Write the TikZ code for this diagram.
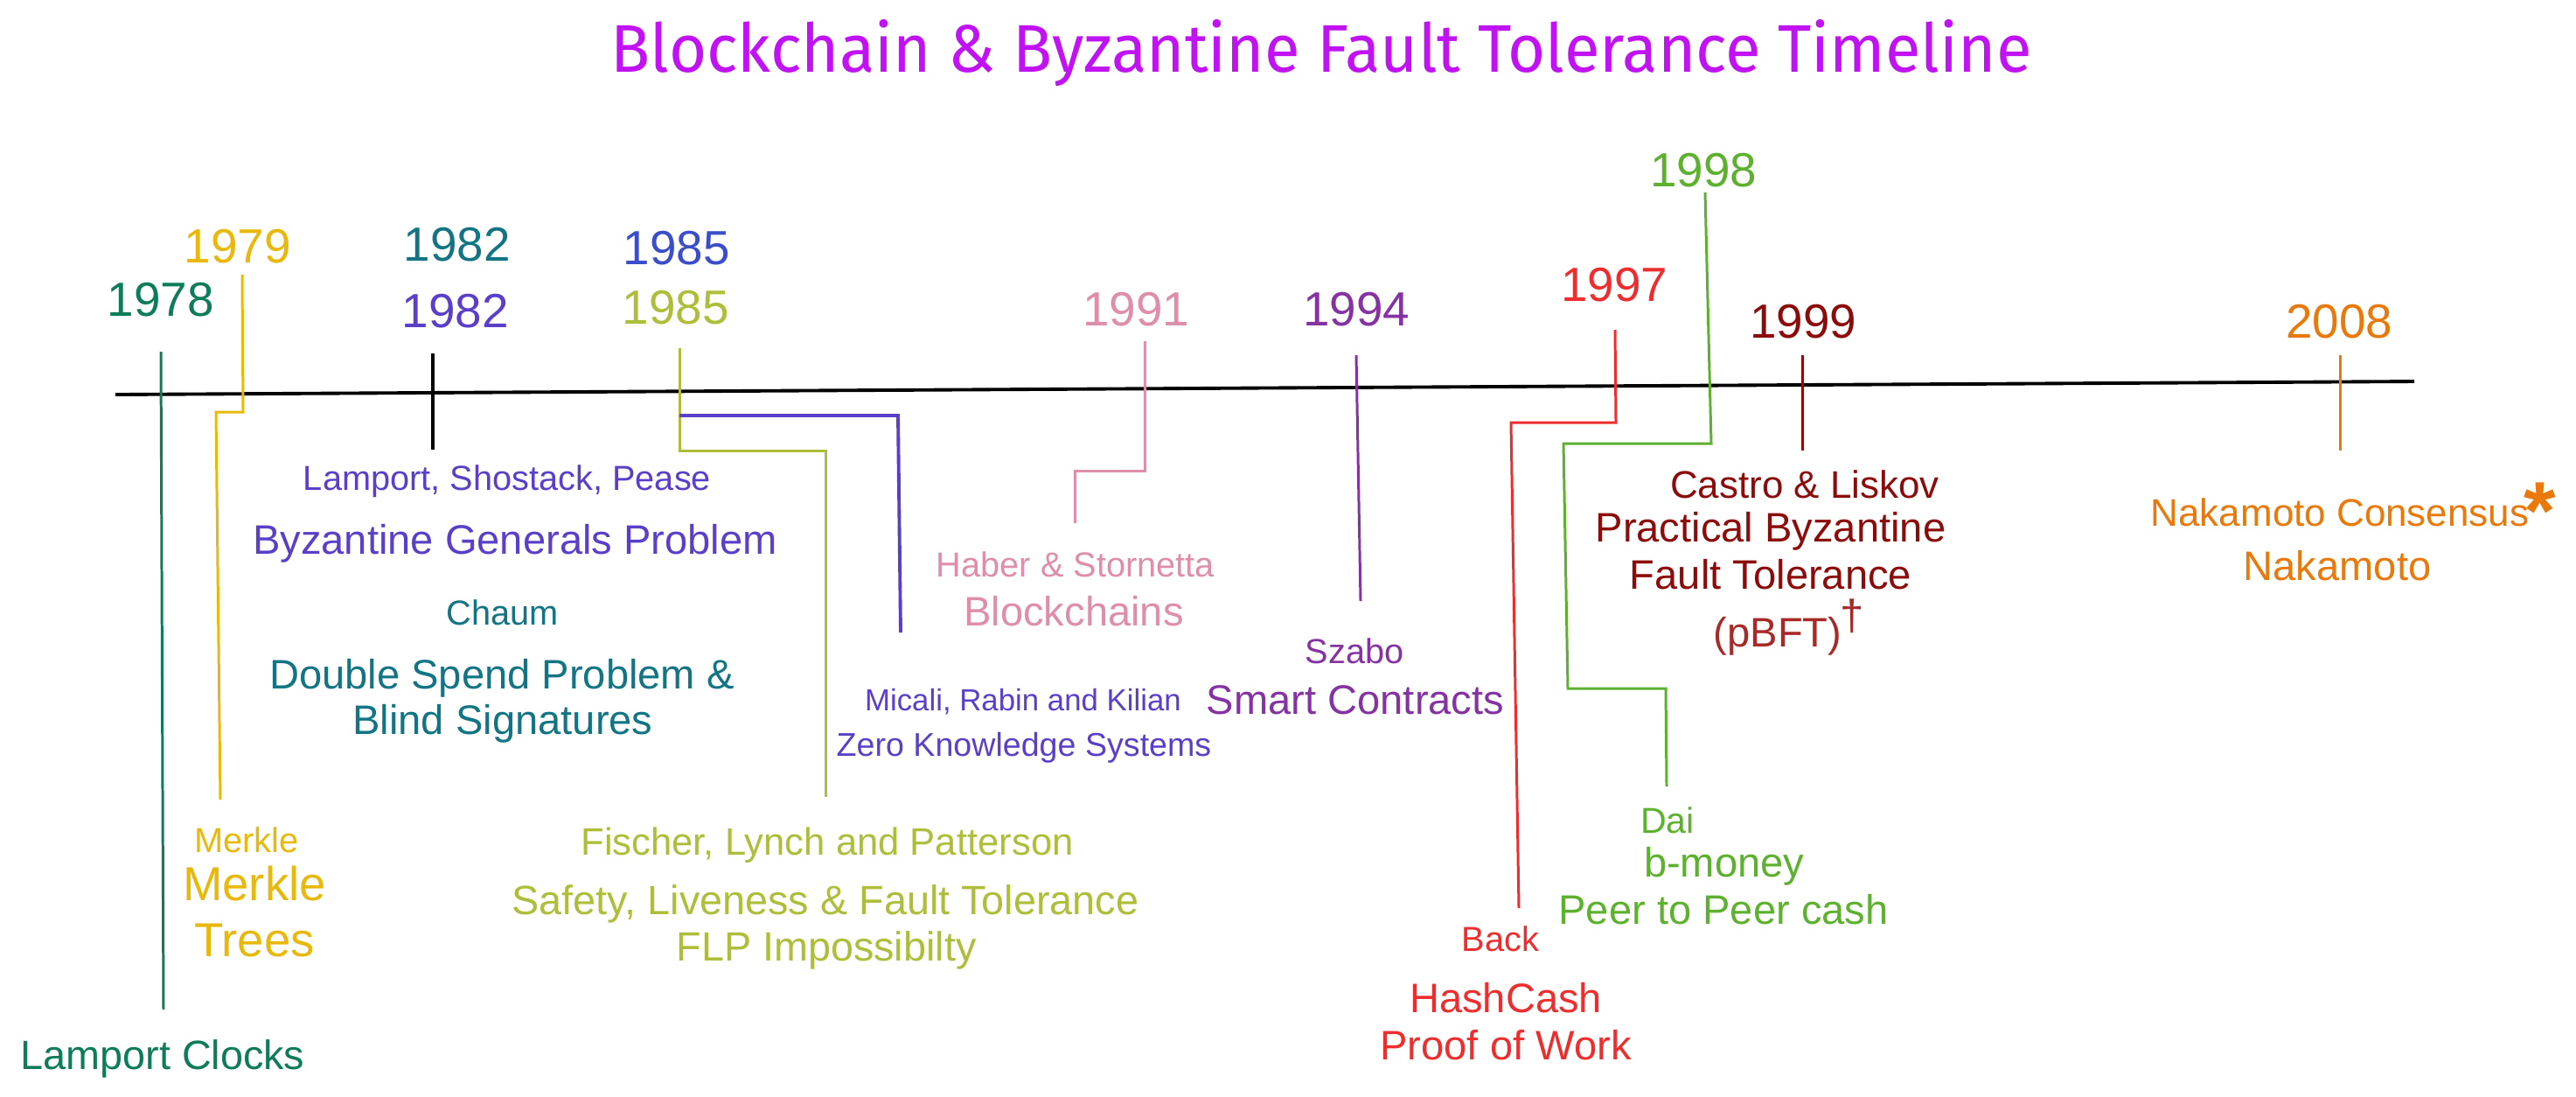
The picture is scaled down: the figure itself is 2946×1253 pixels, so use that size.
\documentclass[tikz,border=0pt]{standalone}
\usepackage{fontspec}
\setmainfont{Liberation Sans}
\newfontfamily\titlefont{Fira Sans}
\definecolor{ctitle}{HTML}{C012F2}
\definecolor{cgreen}{HTML}{0E7C5A}
\definecolor{cgold}{HTML}{E8B80C}
\definecolor{cteal}{HTML}{137484}
\definecolor{cpurple}{HTML}{5B3FC8}
\definecolor{cblue}{HTML}{3C4DC8}
\definecolor{colive}{HTML}{AEBE3A}
\definecolor{cpink}{HTML}{DE8DAA}
\definecolor{cviolet}{HTML}{8533A2}
\definecolor{cred}{HTML}{EE2E2E}
\definecolor{clime}{HTML}{5DB12E}
\definecolor{cdarkred}{HTML}{8C0B0B}
\definecolor{cbrick}{HTML}{A82A28}
\definecolor{corange}{HTML}{E8790A}
\newcommand{\fs}[1]{\fontsize{#1}{#1}\selectfont}
\begin{document}
\begin{tikzpicture}[x=0.01cm,y=-0.01cm,
  every node/.style={inner sep=0pt,outer sep=0pt,anchor=base},
  yearlbl/.style={font=\fs{15.6}},
  smalllbl/.style={font=\fs{11.3}},
  biglbl/.style={font=\fs{13.4}},
  conn/.style={line width=0.85pt,line join=miter},
  axisline/.style={line width=1.1pt,black}]
\useasboundingbox (0,0) rectangle (2946,1253);

% title
\node[text=ctitle] (title) at (1511,82) {\resizebox{16.24cm}{0.6cm}{\titlefont Blockchain \& Byzantine Fault Tolerance Timeline}};

% axis
\coordinate (axL) at (132,451);
\coordinate (axR) at (2761,436);
\draw[axisline] (axL) -- (axR);

% 1978
\node[yearlbl,text=cgreen] (y78) at (184,361) {1978};
\coordinate (l78a) at (184,402); \coordinate (l78b) at (187,1154);
\draw[conn,cgreen] (l78a) -- (l78b);
\node[font=\fs{13.3},text=cgreen] (lclocks) at (186,1222) {Lamport Clocks};

% 1979
\node[yearlbl,text=cgold] (y79) at (272,300) {1979};
\coordinate (l79a) at (277,314); \coordinate (l79b) at (278,471);
\coordinate (l79c) at (247,471); \coordinate (l79d) at (252,914);
\draw[conn,cgold] (l79a) -- (l79b) -- (l79c) -- (l79d);
\node[smalllbl,text=cgold] (merkleA) at (282,974) {Merkle};
\node[font=\fs{15.5},text=cgold] (merkleB) at (291,1029) {Merkle};
\node[font=\fs{15.5},text=cgold] (merkleC) at (291,1093) {Trees};

% 1982
\node[yearlbl,text=cteal] (y82a) at (523,298) {1982};
\node[yearlbl,text=cpurple] (y82b) at (521,374) {1982};
\coordinate (l82a) at (495,404); \coordinate (l82b) at (495,514);
\draw[line width=0.9pt,black] (l82a) -- (l82b);
\node[smalllbl,text=cpurple] (lsp) at (580,560) {Lamport, Shostack, Pease};
\node[biglbl,text=cpurple] (bgp) at (589,633) {Byzantine Generals Problem};
\node[smalllbl,text=cteal] (chaum) at (575,714) {Chaum};
\node[biglbl,text=cteal] (dsp) at (574,787) {Double Spend Problem \&};
\node[biglbl,text=cteal] (bsig) at (575,839) {Blind Signatures};

% 1985
\node[yearlbl,text=cblue] (y85a) at (774,302) {1985};
\node[yearlbl,text=colive] (y85b) at (773,370) {1985};
\coordinate (l85a) at (777,398); \coordinate (l85b) at (777,515);
\coordinate (l85c) at (944,515); \coordinate (l85d) at (944,911);
\draw[conn,colive] (l85a) -- (l85b) -- (l85c) -- (l85d);
\coordinate (m85a) at (777,475); \coordinate (m85b) at (1027,475);
\coordinate (m85c) at (1030,723);
\draw[line width=1.1pt,cpurple] (m85a) -- (m85b) -- (m85c);
\node[font=\fs{12.4},text=colive] (flp1) at (946,977) {Fischer, Lynch and Patterson};
\node[font=\fs{13.3},text=colive] (flp2) at (944,1045) {Safety, Liveness \& Fault Tolerance};
\node[font=\fs{13.3},text=colive] (flp3) at (945,1098) {FLP Impossibilty};
\node[font=\fs{9.9},text=cpurple] (mrk) at (1170,812) {Micali, Rabin and Kilian};
\node[font=\fs{10.7},text=cpurple] (zks) at (1171,864) {Zero Knowledge Systems};

% 1991
\node[yearlbl,text=cpink] (y91) at (1299,372) {1991};
\coordinate (l91a) at (1309,390); \coordinate (l91b) at (1309,538);
\coordinate (l91c) at (1229,538); \coordinate (l91d) at (1229,598);
\draw[conn,cpink] (l91a) -- (l91b) -- (l91c) -- (l91d);
\node[smalllbl,text=cpink] (haber) at (1230,659) {Haber \& Stornetta};
\node[biglbl,text=cpink] (bchain) at (1228,715) {Blockchains};

% 1994
\node[yearlbl,text=cviolet] (y94) at (1551,372) {1994};
\coordinate (l94a) at (1551,406); \coordinate (l94b) at (1556,687);
\draw[conn,cviolet] (l94a) -- (l94b);
\node[smalllbl,text=cviolet] (szabo) at (1549,758) {Szabo};
\node[biglbl,text=cviolet] (smart) at (1550,816) {Smart Contracts};

% 1997
\node[yearlbl,text=cred] (y97) at (1846,344) {1997};
\coordinate (l97a) at (1847,377); \coordinate (l97b) at (1848,483);
\coordinate (l97c) at (1728,483); \coordinate (l97d) at (1737,1038);
\draw[conn,cred] (l97a) -- (l97b) -- (l97c) -- (l97d);
\node[smalllbl,text=cred] (back) at (1716,1087) {Back};
\node[biglbl,text=cred] (hcash) at (1722,1157) {HashCash};
\node[biglbl,text=cred] (pow) at (1722,1211) {Proof of Work};

% 1998
\node[yearlbl,text=clime] (y98) at (1948,213) {1998};
\coordinate (l98a) at (1950,220); \coordinate (l98b) at (1957,507);
\coordinate (l98c) at (1788,507); \coordinate (l98d) at (1793,787);
\coordinate (l98e) at (1905,787); \coordinate (l98f) at (1906,899);
\draw[conn,clime] (l98a) -- (l98b) -- (l98c) -- (l98d) -- (l98e) -- (l98f);
\node[font=\fs{11.7},text=clime,anchor=base west] (dai) at (1876,952) {Dai};
\node[biglbl,text=clime,anchor=base west] (bmoney) at (1880,1002) {b-money};
\node[biglbl,text=clime] (p2p) at (1971,1056) {Peer to Peer cash};

% 1999
\node[yearlbl,text=cdarkred] (y99) at (2062,386) {1999};
\coordinate (l99a) at (2061,406); \coordinate (l99b) at (2061,515);
\draw[conn,cdarkred] (l99a) -- (l99b);
\node[font=\fs{12.5},text=cdarkred] (castro) at (2064,569) {Castro \& Liskov};
\node[biglbl,text=cdarkred] (pbft1) at (2025,619) {Practical Byzantine};
\node[biglbl,text=cdarkred] (pbft2) at (2025,673) {Fault Tolerance};
\node[biglbl,text=cbrick] (pbft3) at (2033,739) {(pBFT)};
\node[font=\fs{14},text=cbrick] (dagger) at (2118,720) {†};

% 2008
\node[yearlbl,text=corange] (y08) at (2675,386) {2008};
\coordinate (l08a) at (2676,406); \coordinate (l08b) at (2676,515);
\draw[conn,corange] (l08a) -- (l08b);
\node[font=\fs{12.5},text=corange] (nakc) at (2676,601) {Nakamoto Consensus};
\node[font=\fs{26.7}\bfseries,text=corange] (star) at (2905,616) {*};
\node[biglbl,text=corange] (nak) at (2673,663) {Nakamoto};
\end{tikzpicture}
\end{document}
